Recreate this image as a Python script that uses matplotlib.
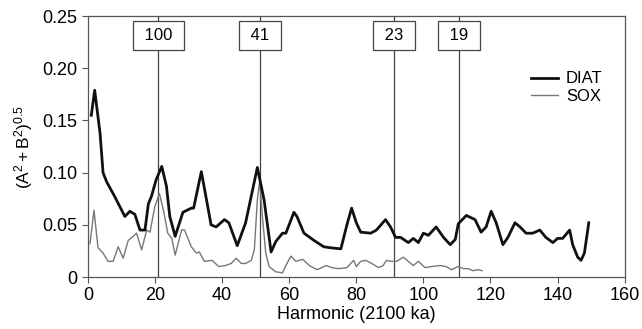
import matplotlib
matplotlib.use("Agg")
import matplotlib.pyplot as plt

plt.rcParams['font.family'] = ['Liberation Sans', 'DejaVu Sans']
plt.rcParams['mathtext.fontset'] = 'custom'
plt.rcParams['mathtext.rm'] = 'Liberation Sans'
plt.rcParams['mathtext.it'] = 'Liberation Sans'

# DIAT spectrum (harmonic, amplitude)
diat_h = [1, 2, 3.6, 4.5, 5.6, 8, 11, 12.5, 14, 15.5, 17, 18, 19, 20.3, 22, 23.4,
          24.4, 26, 28.3, 30.8, 31.5, 33.8, 35, 36.7, 38.2, 40.7, 42, 44.5, 47,
          50.5, 52.5, 54.6, 56, 58, 59, 61.4, 62.3, 64.4, 67.4, 70.3, 72.4, 75.4,
          77.2, 78.6, 80, 81.3, 84.3, 86, 88.7, 90.2, 91.7, 93.2, 95.5, 97, 98.5,
          100, 101.5, 103.8, 106, 108, 109.5, 110.4, 112.8, 115.4, 117.2, 118.7,
          120.2, 121.7, 123.7, 125.2, 127.3, 128.8, 130.6, 132.6, 134.7, 136.5,
          138.6, 140, 141.5, 143.6, 144.5, 146, 147, 148, 149.3]
diat_v = [0.155, 0.179, 0.138, 0.100, 0.091, 0.077, 0.058, 0.063, 0.060, 0.045,
          0.045, 0.070, 0.078, 0.093, 0.106, 0.087, 0.058, 0.039, 0.062, 0.066,
          0.066, 0.101, 0.080, 0.050, 0.048, 0.055, 0.052, 0.030, 0.052, 0.105,
          0.074, 0.024, 0.034, 0.042, 0.042, 0.062, 0.058, 0.042, 0.035, 0.029,
          0.028, 0.027, 0.050, 0.066, 0.052, 0.043, 0.042, 0.045, 0.055, 0.048,
          0.038, 0.038, 0.033, 0.037, 0.033, 0.042, 0.040, 0.048, 0.038, 0.031,
          0.036, 0.051, 0.059, 0.055, 0.043, 0.048, 0.063, 0.052, 0.031, 0.038,
          0.052, 0.048, 0.042, 0.042, 0.045, 0.038, 0.033, 0.037, 0.037, 0.045,
          0.031, 0.019, 0.016, 0.023, 0.052]

# SOX spectrum
sox_h = [0.6, 1.8, 3, 4.5, 6, 7.5, 9, 10.5, 12, 13.5, 14.5, 16, 17.5, 18.5, 19.9,
         21.3, 22.5, 23.8, 25, 26, 27.9, 28.8, 30.8, 32.3, 33.2, 34.7, 37, 39, 41,
         42.7, 44.2, 45.7, 47, 48.7, 49.6, 50.5, 51.2, 52, 53, 54, 56, 58, 59,
         60.5, 62, 64, 66, 68.3, 71, 72.7, 74.8, 77.2, 79.2, 80, 81.3, 82.8, 84.6,
         86.6, 88, 89, 90.5, 92, 94, 95.5, 97, 98.5, 100.5, 102.4, 105, 106.8,
         108.3, 110.4, 111.9, 113.4, 114.8, 116.3, 117.5]
sox_v = [0.032, 0.064, 0.028, 0.023, 0.015, 0.015, 0.029, 0.018, 0.035, 0.039,
         0.042, 0.026, 0.045, 0.043, 0.067, 0.080, 0.064, 0.042, 0.037, 0.021,
         0.045, 0.045, 0.029, 0.023, 0.024, 0.015, 0.016, 0.010, 0.011, 0.013,
         0.018, 0.013, 0.013, 0.016, 0.026, 0.074, 0.092, 0.058, 0.023, 0.010,
         0.005, 0.004, 0.011, 0.020, 0.015, 0.017, 0.011, 0.007, 0.011, 0.009,
         0.008, 0.009, 0.016, 0.010, 0.015, 0.016, 0.013, 0.009, 0.011, 0.016,
         0.015, 0.015, 0.019, 0.015, 0.011, 0.015, 0.009, 0.010, 0.011, 0.010,
         0.007, 0.010, 0.008, 0.008, 0.006, 0.007, 0.006]

# orbital periods (ka) marked on the record of 2100 ka
periods = [100, 41, 23, 19]
record_len = 2100

fig = plt.figure(figsize=(6.42, 3.29), dpi=100)
ax = fig.add_axes([0.137, 0.158, 0.836, 0.793])

for p in periods:
    h = record_len / p
    ax.axvline(h, color='#444444', lw=0.9, zorder=1)
    ax.text(h, 0.231, f" {p} ", ha='center', va='center', fontsize=12, zorder=5,
            bbox=dict(boxstyle='square,pad=0.42', fc='white', ec='#444444', lw=0.9))

ax.plot(diat_h, diat_v, color='#111111', lw=2.0, label='DIAT', zorder=3)
ax.plot(sox_h, sox_v, color='#777777', lw=1.0, label='SOX', zorder=2)

ax.set_xlim(0, 160)
ax.set_ylim(0, 0.25)
ax.set_xticks(range(0, 161, 20))
ax.set_yticks([0, 0.05, 0.10, 0.15, 0.20, 0.25])
ax.set_yticklabels(['0', '0.05', '0.10', '0.15', '0.20', '0.25'])
ax.tick_params(labelsize=13, color='#555555', length=4, width=0.8)
for s in ax.spines.values():
    s.set_color('#555555')
    s.set_linewidth(0.9)

ax.set_xlabel('Harmonic (2100 ka)', fontsize=13, labelpad=1)
ax.set_ylabel(r'$(\mathrm{A}^2 + \mathrm{B}^2)^{0.5}$', fontsize=12.5, labelpad=5)

ax.legend(loc='upper left', bbox_to_anchor=(0.81, 0.82), frameon=False, fontsize=12,
          handlelength=1.6, handletextpad=0.5, labelspacing=0.15, borderpad=0)

fig.savefig('out.png', dpi=100)
